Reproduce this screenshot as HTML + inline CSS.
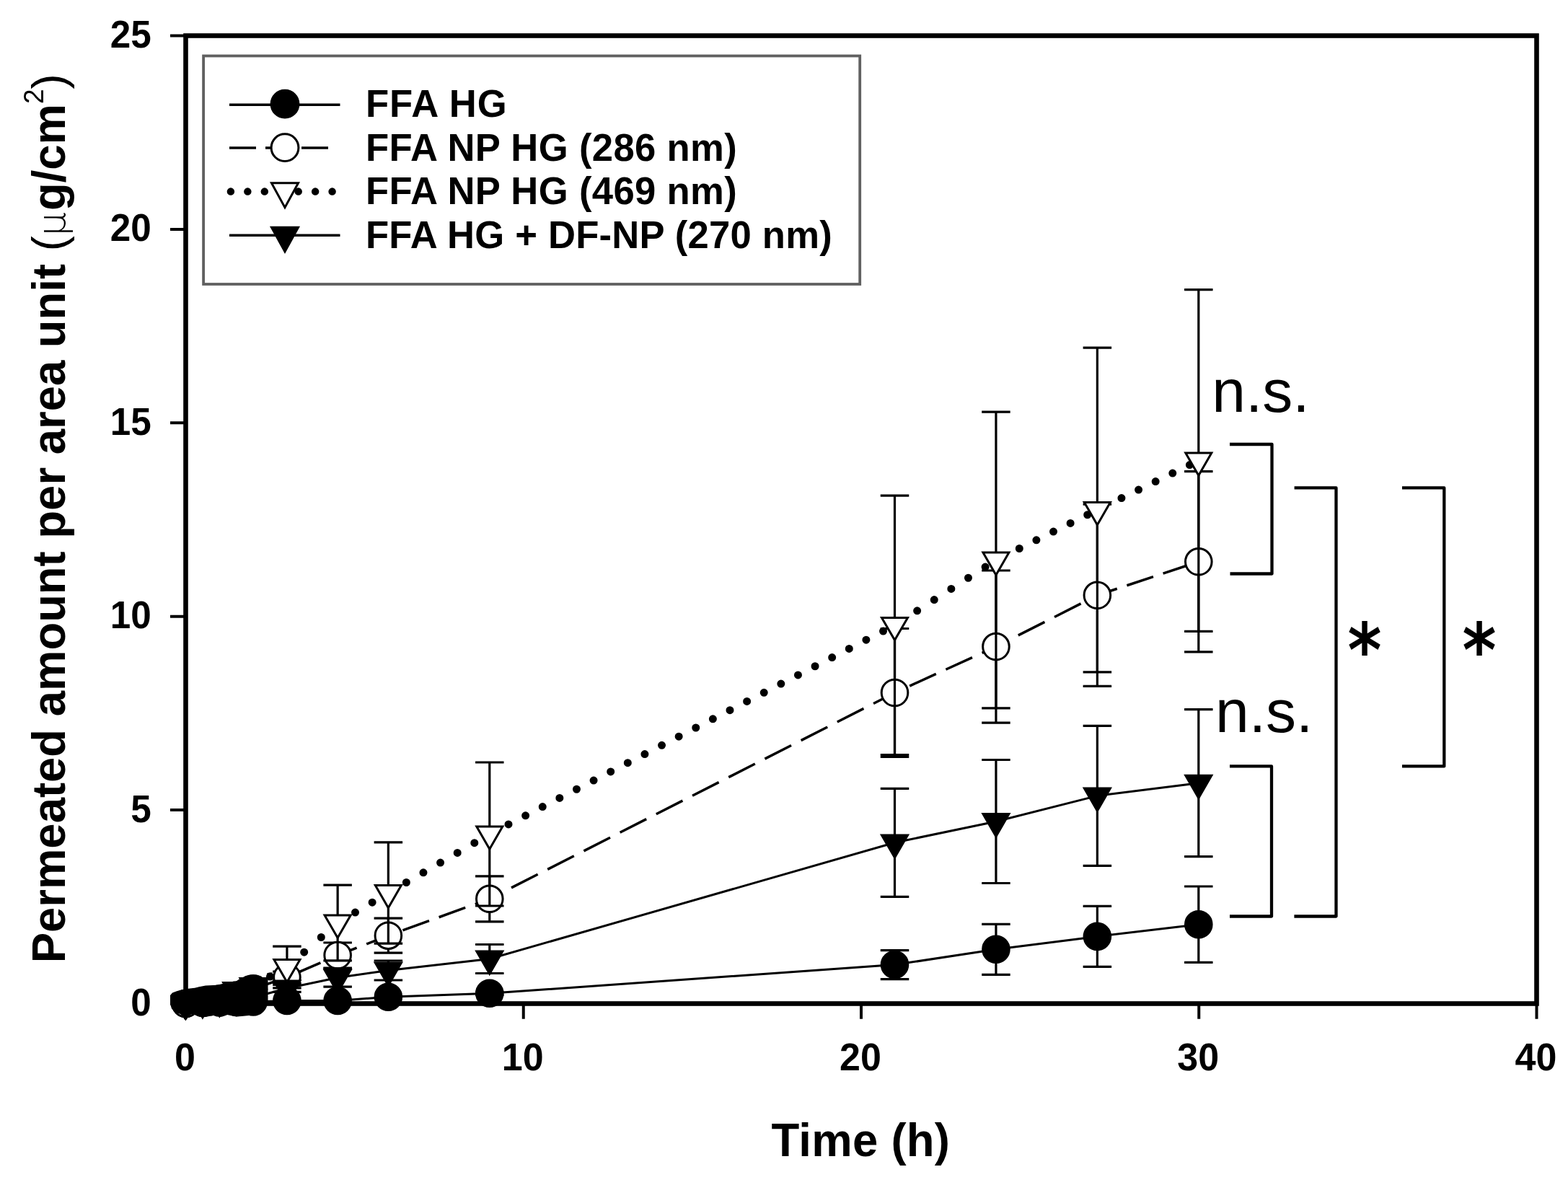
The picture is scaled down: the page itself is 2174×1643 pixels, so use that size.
<!DOCTYPE html><html><head><meta charset="utf-8"><title>Permeation chart</title>
<style>html,body{margin:0;padding:0;background:#fff;width:2174px;height:1643px;overflow:hidden}svg{display:block}text{font-family:"Liberation Sans",Arial,sans-serif}</style></head><body>
<svg xmlns="http://www.w3.org/2000/svg" width="2174" height="1643" viewBox="0 0 2174 1643">
<rect width="2174" height="1643" fill="#fff"/>
<rect x="282.1" y="77.5" width="910.1" height="316.5" fill="none" stroke="#606060" stroke-width="3.8"/>
<line x1="318" y1="145.3" x2="471.5" y2="145.3" stroke="#000" stroke-width="3.6"/>
<circle cx="395" cy="144.2" r="18.9" fill="#000" stroke="#000" stroke-width="3.0"/>
<line x1="318" y1="205.0" x2="456" y2="205.0" stroke="#000" stroke-width="3.6" stroke-dasharray="37 13"/>
<circle cx="395" cy="204.7" r="18.9" fill="#fff" stroke="#000" stroke-width="3.0"/>
<line x1="319.9" y1="265.6" x2="465" y2="265.6" stroke="#000" stroke-width="10.5" stroke-linecap="round" stroke-dasharray="0 23.45"/>
<path d="M376.5 253.8L413.5 253.8L395 287.6Z" fill="#fff" stroke="#000" stroke-width="3.0"/>
<line x1="318" y1="326.2" x2="471.5" y2="326.2" stroke="#000" stroke-width="3.6"/>
<path d="M376.5 315.2L413.5 315.2L395 349Z" fill="#000" stroke="#000" stroke-width="3.0"/>
<text transform="translate(507.0 161.9) scale(1 1.025)" font-size="52.66" font-weight="bold" textLength="195.7" lengthAdjust="spacing">FFA HG</text>
<text transform="translate(507.0 222.5) scale(1 1.025)" font-size="52.66" font-weight="bold" textLength="514.8" lengthAdjust="spacing">FFA NP HG (286 nm)</text>
<text transform="translate(507.0 283.1) scale(1 1.025)" font-size="52.66" font-weight="bold" textLength="514.8" lengthAdjust="spacing">FFA NP HG (469 nm)</text>
<text transform="translate(507.0 343.5) scale(1 1.025)" font-size="52.66" font-weight="bold" textLength="646.8" lengthAdjust="spacing">FFA HG + DF-NP (270 nm)</text>
<polyline points="257.5,1391.5 280.9,1390.5 304.31,1390 327.72,1389.5 351.12,1389 397.93,1387.5 468.14,1387.5 538.36,1382.2 678.79,1377.3 1240.51,1337.6 1380.94,1316.3 1521.37,1298.4 1661.8,1281.7" fill="none" stroke="#000" stroke-width="3.0" />
<path d="M678.79 1375.3V1379.3M659.04 1375.3H698.54M659.04 1379.3H698.54M1240.51 1317.6V1357.6M1220.76 1317.6H1260.26M1220.76 1357.6H1260.26M1380.94 1281.3V1351.3M1361.19 1281.3H1400.69M1361.19 1351.3H1400.69M1521.37 1256.4V1340.4M1501.62 1256.4H1541.12M1501.62 1340.4H1541.12M1661.8 1229V1334.4M1642.05 1229H1681.55M1642.05 1334.4H1681.55" stroke="#000" stroke-width="3.2" fill="none"/>
<g fill="#000" stroke="#000" stroke-width="3.0"><circle cx="257.5" cy="1391.5" r="18.3"/><circle cx="280.9" cy="1390.5" r="18.3"/><circle cx="304.31" cy="1390" r="18.3"/><circle cx="327.72" cy="1389.5" r="18.3"/><circle cx="351.12" cy="1389" r="18.3"/><circle cx="397.93" cy="1387.5" r="18.3"/><circle cx="468.14" cy="1387.5" r="18.3"/><circle cx="538.36" cy="1382.2" r="18.3"/><circle cx="678.79" cy="1377.3" r="18.3"/><circle cx="1240.51" cy="1337.6" r="18.3"/><circle cx="1380.94" cy="1316.3" r="18.3"/><circle cx="1521.37" cy="1298.4" r="18.3"/><circle cx="1661.8" cy="1281.7" r="18.3"/></g>
<g fill="none" stroke="#000" stroke-width="3.5" stroke-linecap="butt"><line x1="257.5" y1="1391.5" x2="280.9" y2="1388" stroke-dasharray="37.01 13.75" stroke-dashoffset="0.3"/><line x1="280.9" y1="1388" x2="304.31" y2="1385" stroke-dasharray="36.9 13.71" stroke-dashoffset="23.9"/><line x1="304.31" y1="1385" x2="327.72" y2="1380" stroke-dasharray="37.43 13.91" stroke-dashoffset="48.17"/><line x1="327.72" y1="1380" x2="351.12" y2="1371" stroke-dasharray="39.21 14.57" stroke-dashoffset="21.77"/><line x1="351.12" y1="1371" x2="397.93" y2="1355" stroke-dasharray="38.68 14.37" stroke-dashoffset="46.2"/><line x1="397.93" y1="1355" x2="468.14" y2="1324.5" stroke-dasharray="39.9 14.83" stroke-dashoffset="43.97"/><line x1="468.14" y1="1324.5" x2="538.36" y2="1297.2" stroke-dasharray="39.27 14.59" stroke-dashoffset="10.88"/><line x1="538.36" y1="1297.2" x2="678.79" y2="1246.3" stroke-dasharray="38.93 14.47" stroke-dashoffset="32.08"/><line x1="678.79" y1="1246.3" x2="1240.51" y2="960.5" stroke-dasharray="41.07 15.26" stroke-dashoffset="22.43"/><line x1="1240.51" y1="960.5" x2="1380.94" y2="896.6" stroke-dasharray="40.21 14.94" stroke-dashoffset="32.42"/><line x1="1380.94" y1="896.6" x2="1521.37" y2="825.3" stroke-dasharray="41.05 15.25" stroke-dashoffset="21.69"/><line x1="1521.37" y1="825.3" x2="1661.8" y2="778.8" stroke-dasharray="38.55 14.33" stroke-dashoffset="9.66"/></g>
<path d="M397.93 1347V1363M378.18 1347H417.68M378.18 1363H417.68M468.14 1307V1342M448.39 1307H487.89M448.39 1342H487.89M538.36 1273.2V1321.2M518.61 1273.2H558.11M518.61 1321.2H558.11M678.79 1214.8V1277.8M659.04 1214.8H698.54M659.04 1277.8H698.54M1240.51 871.5V1049.5M1220.76 871.5H1260.26M1220.76 1049.5H1260.26M1380.94 791V1002.2M1361.19 791H1400.69M1361.19 1002.2H1400.69M1521.37 699.2V951.4M1501.62 699.2H1541.12M1501.62 951.4H1541.12M1661.8 653.7V903.9M1642.05 653.7H1681.55M1642.05 903.9H1681.55" stroke="#000" stroke-width="3.2" fill="none"/>
<g fill="#fff" stroke="#000" stroke-width="3.0"><circle cx="257.5" cy="1391.5" r="18.3"/><circle cx="280.9" cy="1388" r="18.3"/><circle cx="304.31" cy="1385" r="18.3"/><circle cx="327.72" cy="1380" r="18.3"/><circle cx="351.12" cy="1371" r="18.3"/><circle cx="397.93" cy="1355" r="18.3"/><circle cx="468.14" cy="1324.5" r="18.3"/><circle cx="538.36" cy="1297.2" r="18.3"/><circle cx="678.79" cy="1246.3" r="18.3"/><circle cx="1240.51" cy="960.5" r="18.3"/><circle cx="1380.94" cy="896.6" r="18.3"/><circle cx="1521.37" cy="825.3" r="18.3"/><circle cx="1661.8" cy="778.8" r="18.3"/></g>
<g fill="none" stroke="#000" stroke-width="11" stroke-linecap="round"><line x1="257.5" y1="1391.5" x2="280.9" y2="1384" stroke-dasharray="0 24.79" stroke-dashoffset="1.14"/><line x1="280.9" y1="1384" x2="304.31" y2="1379" stroke-dasharray="0 24.14" stroke-dashoffset="0.9"/><line x1="304.31" y1="1379" x2="327.72" y2="1373" stroke-dasharray="0 24.37" stroke-dashoffset="0.7"/><line x1="327.72" y1="1373" x2="351.12" y2="1367" stroke-dasharray="0 24.37" stroke-dashoffset="0.49"/><line x1="351.12" y1="1367" x2="397.93" y2="1341" stroke-dasharray="0 27.01" stroke-dashoffset="0.31"/><line x1="397.93" y1="1341" x2="468.14" y2="1279.5" stroke-dasharray="0 31.39" stroke-dashoffset="31.2"/><line x1="468.14" y1="1279.5" x2="538.36" y2="1238" stroke-dasharray="0 27.43" stroke-dashoffset="26.55"/><line x1="538.36" y1="1238" x2="678.79" y2="1156.5" stroke-dasharray="0 27.3" stroke-dashoffset="25.71"/><line x1="678.79" y1="1156.5" x2="1240.51" y2="866.8" stroke-dasharray="0 26.57" stroke-dashoffset="23.64"/><line x1="1240.51" y1="866.8" x2="1380.94" y2="776.5" stroke-dasharray="0 28.07" stroke-dashoffset="19.13"/><line x1="1380.94" y1="776.5" x2="1521.37" y2="707" stroke-dasharray="0 26.34" stroke-dashoffset="16.58"/><line x1="1521.37" y1="707" x2="1661.8" y2="638.5" stroke-dasharray="0 26.27" stroke-dashoffset="15.17"/></g>
<path d="M397.93 1312.2V1369.8M378.18 1312.2H417.68M378.18 1369.8H417.68M468.14 1227.2V1331.8M448.39 1227.2H487.89M448.39 1331.8H487.89M538.36 1167.8V1308.2M518.61 1167.8H558.11M518.61 1308.2H558.11M678.79 1057V1256M659.04 1057H698.54M659.04 1256H698.54M1240.51 687.1V1046.5M1220.76 687.1H1260.26M1220.76 1046.5H1260.26M1380.94 571.2V981.8M1361.19 571.2H1400.69M1361.19 981.8H1400.69M1521.37 482.2V931.8M1501.62 482.2H1541.12M1501.62 931.8H1541.12M1661.8 401.6V875.4M1642.05 401.6H1681.55M1642.05 875.4H1681.55" stroke="#000" stroke-width="3.2" fill="none"/>
<g fill="#fff" stroke="#000" stroke-width="3.0"><path d="M239.5 1381.1L275.5 1381.1L257.5 1412.3Z"/><path d="M262.9 1373.6L298.9 1373.6L280.9 1404.8Z"/><path d="M286.31 1368.6L322.31 1368.6L304.31 1399.8Z"/><path d="M309.72 1362.6L345.72 1362.6L327.72 1393.8Z"/><path d="M333.12 1356.6L369.12 1356.6L351.12 1387.8Z"/><path d="M379.93 1330.6L415.93 1330.6L397.93 1361.8Z"/><path d="M450.14 1269.1L486.14 1269.1L468.14 1300.3Z"/><path d="M520.36 1227.6L556.36 1227.6L538.36 1258.8Z"/><path d="M660.79 1146.1L696.79 1146.1L678.79 1177.3Z"/><path d="M1222.51 856.4L1258.51 856.4L1240.51 887.6Z"/><path d="M1362.94 766.1L1398.94 766.1L1380.94 797.3Z"/><path d="M1503.37 696.6L1539.37 696.6L1521.37 727.8Z"/><path d="M1643.8 628.1L1679.8 628.1L1661.8 659.3Z"/></g>
<polyline points="257.5,1391.5 280.9,1390 304.31,1388 327.72,1386 351.12,1383 397.93,1370.3 468.14,1355.5 538.36,1345.5 678.79,1329.5 1240.51,1168.3 1380.94,1139 1521.37,1103.4 1661.8,1085.7" fill="none" stroke="#000" stroke-width="3.0" />
<path d="M397.93 1365.3V1375.3M378.18 1365.3H417.68M378.18 1375.3H417.68M468.14 1342.8V1368.2M448.39 1342.8H487.89M448.39 1368.2H487.89M538.36 1332V1359M518.61 1332H558.11M518.61 1359H558.11M678.79 1309.5V1349.5M659.04 1309.5H698.54M659.04 1349.5H698.54M1240.51 1093.3V1243.3M1220.76 1093.3H1260.26M1220.76 1243.3H1260.26M1380.94 1053.5V1224.5M1361.19 1053.5H1400.69M1361.19 1224.5H1400.69M1521.37 1006.4V1200.4M1501.62 1006.4H1541.12M1501.62 1200.4H1541.12M1661.8 983.7V1187.7M1642.05 983.7H1681.55M1642.05 1187.7H1681.55" stroke="#000" stroke-width="3.2" fill="none"/>
<g fill="#000" stroke="#000" stroke-width="3.0"><path d="M239.5 1381.1L275.5 1381.1L257.5 1412.3Z"/><path d="M262.9 1379.6L298.9 1379.6L280.9 1410.8Z"/><path d="M286.31 1377.6L322.31 1377.6L304.31 1408.8Z"/><path d="M309.72 1375.6L345.72 1375.6L327.72 1406.8Z"/><path d="M333.12 1372.6L369.12 1372.6L351.12 1403.8Z"/><path d="M379.93 1359.9L415.93 1359.9L397.93 1391.1Z"/><path d="M450.14 1345.1L486.14 1345.1L468.14 1376.3Z"/><path d="M520.36 1335.1L556.36 1335.1L538.36 1366.3Z"/><path d="M660.79 1319.1L696.79 1319.1L678.79 1350.3Z"/><path d="M1222.51 1157.9L1258.51 1157.9L1240.51 1189.1Z"/><path d="M1362.94 1128.6L1398.94 1128.6L1380.94 1159.8Z"/><path d="M1503.37 1093L1539.37 1093L1521.37 1124.2Z"/><path d="M1643.8 1075.3L1679.8 1075.3L1661.8 1106.5Z"/></g>
<path d="M236 1380 L239 1376.5 L245 1374.3 L252 1372.3 L261 1370.7 L270 1369.8 L276 1368.3 L285 1366.5 L301 1365.8 L315 1362.5 L326 1361.5 L331 1358 L336 1355.5 L340 1353.3 L345 1351.8 L351 1351.2 L357 1351.8 L362 1353.6 L366 1356.5 L369 1358 L370.5 1349 L377.5 1348.3 L378 1357 L371.5 1358 L371.5 1393 L368 1397 L362 1403 L355 1406.5 L345 1408 L335 1409 L328 1409.5 L320 1408 L315 1407 L310 1408.5 L305 1410 L298 1407 L294 1408.5 L290 1409 L285 1410 L280 1410 L275 1408 L271 1406.4 L265 1406.6 L260 1410.6 L256.5 1414.5 L253.5 1410 L250 1406 L244 1404 L238 1398.4 L236 1392 Z" fill="#000"/>
<rect x="257.5" y="49.5" width="1873.0" height="1342.0" fill="none" stroke="#000" stroke-width="6.6"/>
<path d="M236 1391.5H257.5M236 1123.1H257.5M236 854.7H257.5M236 586.3H257.5M236 317.9H257.5M236 49.5H257.5M257.5 1391.5V1412.7M725.75 1391.5V1412.7M1194 1391.5V1412.7M1662.25 1391.5V1412.7M2130.5 1391.5V1412.7" stroke="#000" stroke-width="4" fill="none"/>
<text transform="translate(209.8 1407.9) scale(1 1.04)" font-size="51.2" font-weight="bold" text-anchor="end">0</text>
<text transform="translate(209.8 1139.5) scale(1 1.04)" font-size="51.2" font-weight="bold" text-anchor="end">5</text>
<text transform="translate(209.8 871.1) scale(1 1.04)" font-size="51.2" font-weight="bold" text-anchor="end">10</text>
<text transform="translate(209.8 602.7) scale(1 1.04)" font-size="51.2" font-weight="bold" text-anchor="end">15</text>
<text transform="translate(209.8 334.3) scale(1 1.04)" font-size="51.2" font-weight="bold" text-anchor="end">20</text>
<text transform="translate(209.8 65.9) scale(1 1.04)" font-size="51.2" font-weight="bold" text-anchor="end">25</text>
<text transform="translate(256.5 1484.3) scale(1 1.04)" font-size="52" font-weight="bold" text-anchor="middle">0</text>
<text transform="translate(724.75 1484.3) scale(1 1.04)" font-size="52" font-weight="bold" text-anchor="middle">10</text>
<text transform="translate(1193 1484.3) scale(1 1.04)" font-size="52" font-weight="bold" text-anchor="middle">20</text>
<text transform="translate(1661.25 1484.3) scale(1 1.04)" font-size="52" font-weight="bold" text-anchor="middle">30</text>
<text transform="translate(2129.5 1484.3) scale(1 1.04)" font-size="52" font-weight="bold" text-anchor="middle">40</text>
<text transform="translate(1193.2 1602.6) scale(1 1.035)" font-size="63.5" font-weight="bold" text-anchor="middle" textLength="247.6" lengthAdjust="spacing">Time (h)</text>
<text transform="translate(90.4 1335.3) rotate(-90) scale(1 1.03)" font-size="63.45" font-weight="bold">Permeated amount per area unit <tspan font-weight="normal">(<tspan font-size="52" font-weight="200" style="font-family:'DejaVu Sans',sans-serif">μ</tspan></tspan><tspan dx="2">g/cm</tspan><tspan font-weight="normal" font-size="37" dy="-30">2</tspan><tspan font-weight="normal" dy="30">)</tspan></text>
<path d="M1705 616H1763.5V795.5H1705.5M1705 1062.4H1763V1270.5H1705M1794.6 676.4H1852.5V1270.5H1794.4M1944 676.4H2002.3V1062.4H1944" fill="none" stroke="#000" stroke-width="4.3" stroke-linejoin="round"/>
<text x="1680.2" y="571.4" font-size="84">n.s.</text>
<text x="1685" y="1015.1" font-size="84">n.s.</text>
<text transform="translate(1868.6 938.3) scale(1 1.14)" font-size="90" font-weight="bold" style="font-family:'DejaVu Sans',sans-serif">*</text>
<text transform="translate(2027.6 938.3) scale(1 1.14)" font-size="90" font-weight="bold" style="font-family:'DejaVu Sans',sans-serif">*</text>
</svg></body></html>
